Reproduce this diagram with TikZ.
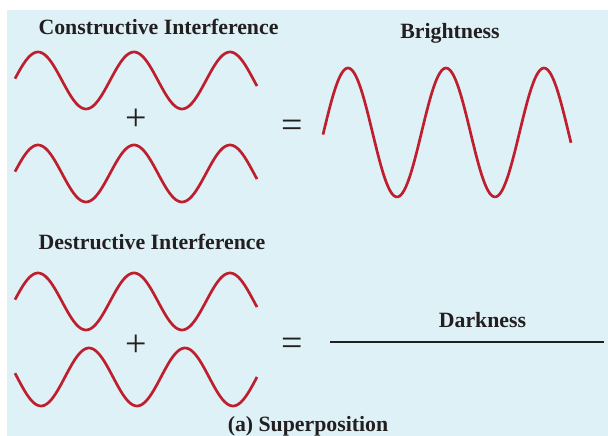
\documentclass[tikz,border=0pt]{standalone}
\usepackage{fontspec}
\setmainfont{Liberation Serif}
\usepackage{tikz}
\usepackage{xcolor}
\usetikzlibrary{positioning,calc}
\definecolor{skyback}{RGB}{222,241,246}
\definecolor{waveRed}{RGB}{190,30,45}
\definecolor{inkDark}{RGB}{35,31,32}

\begin{document}
\begin{tikzpicture}[x=1pt, y=-1pt,
    wave/.style={waveRed, line width=2.7pt, samples=120},
    title/.style={inkDark, anchor=base, inner sep=0pt, font=\fontsize{21.8}{24}\selectfont\bfseries},
    sign/.style={inkDark, anchor=base, inner sep=0pt, font=\fontsize{38}{38}\selectfont}]
    \useasboundingbox (0,0) rectangle (608,436);
    \fill[skyback] (7,10) rectangle (608,436);
    % constructive
    \node[title] (conTitle) at (158.5,35) {Constructive Interference};
    \node[title] (brightTitle) at (450,39) {Brightness};
    \draw[wave, domain=15:257] plot (\x, {80.5-28.5*sin(3.75*(\x-14))});
    \draw[wave, domain=15:257] plot (\x, {173.5-28.5*sin(3.75*(\x-14))});
    \node[sign] (conPlus) at (136.5,130.5) {+};
    \node[sign] (conEq) at (292.5,137.5) {=};
    \draw[wave, domain=323:571] plot (\x, {132.5-64.5*sin(3.6735*(\x-323.5))});
    % destructive
    \node[title] (desTitle) at (152,249.5) {Destructive Interference};
    \draw[wave, domain=15:257] plot (\x, {301.5-28.5*sin(3.75*(\x-14))});
    \draw[wave, domain=15:257] plot (\x, {377+29*sin(3.75*(\x-17))});
    \node[sign] (desPlus) at (136.5,356.5) {+};
    \node[sign] (desEq) at (292.5,355.5) {=};
    \node[title] (darkTitle) at (482.5,327) {Darkness};
    \draw[inkDark, line width=2.6pt] (330,342) -- (604,342);
    \node[title] (caption) at (308,431) {(a) Superposition};
\end{tikzpicture}
\end{document}
